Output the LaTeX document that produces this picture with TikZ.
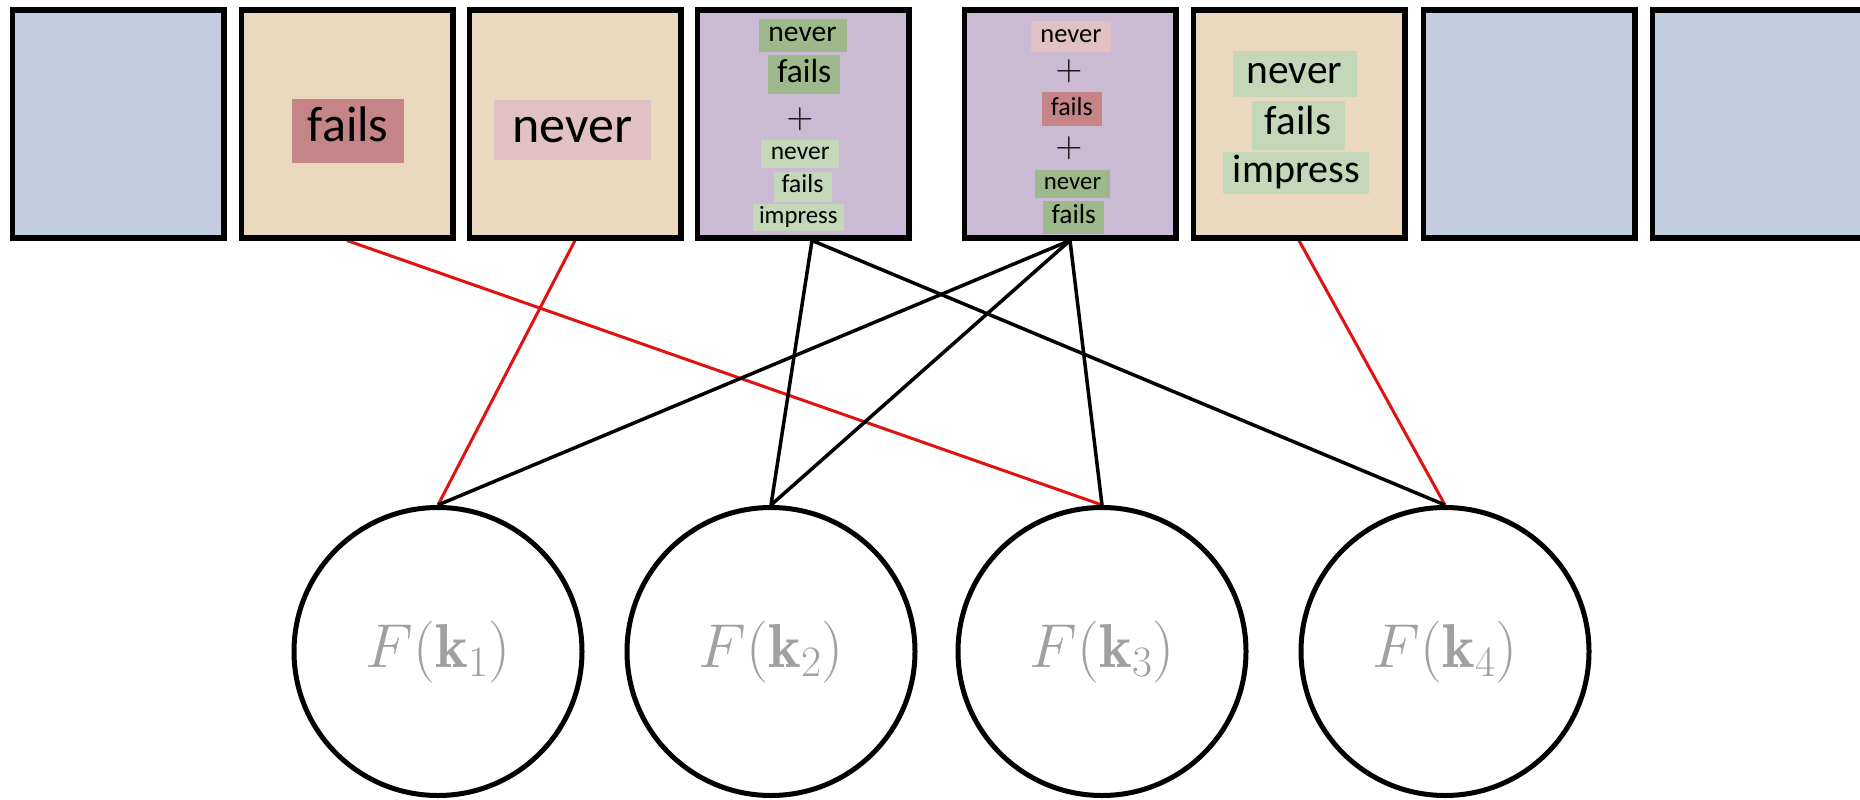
\RequirePackage{fix-cm}
\documentclass[tikz,border=0pt]{standalone}
\usepackage{fontspec}
\newfontfamily\lbl{Carlito}
\usetikzlibrary{calc}

\definecolor{boxblue}{HTML}{C2CDDF}
\definecolor{boxtan}{HTML}{EAD9BF}
\definecolor{boxpurple}{HTML}{CABAD3}
\definecolor{rosedark}{HTML}{C58586}
\definecolor{roselight}{HTML}{E1C1C3}
\definecolor{greendark}{HTML}{9DB98B}
\definecolor{greenlight}{HTML}{C4D7B9}
\definecolor{labelgray}{HTML}{A0A0A0}
\definecolor{linkred}{RGB}{225,18,18}

% invisible strut so every tag centres its line box, not its ink
\newcommand\tagstrut{\vrule height .75em depth .3em width 0pt\relax}

\pgfdeclarelayer{bg}
\pgfsetlayers{bg,main}

\tikzset{
  slot/.style={rectangle, draw=black, line width=5.5pt, minimum width=211.5pt,
    minimum height=227.5pt, inner sep=0pt},
  tag/.style n args={4}{rectangle, fill=#1, minimum width=#2, minimum height=#3,
    inner sep=0pt, font=\lbl\fontsize{#4}{#4}\selectfont,
    execute at begin node=\tagstrut},
  plus/.style={inner sep=0pt, font=\fontsize{37}{37}\selectfont},
  feat/.style={circle, draw=black, line width=5pt, minimum size=288pt,
    inner sep=0pt, text=labelgray, font=\fontsize{62}{66}\selectfont},
  redlink/.style={draw=linkred, line width=3pt},
  blacklink/.style={draw=black, line width=3.5pt},
}

\begin{document}
\begin{tikzpicture}[x=1pt, y=-1pt]
\useasboundingbox (0,0) rectangle (1860,800);
\begin{pgfonlayer}{bg}
  \fill[white] (0,0) rectangle (1860,800);
\end{pgfonlayer}

% top row of slots
\node[slot, fill=boxblue]   (b1) at (118,124) {};
\node[slot, fill=boxtan]    (b2) at (347,124) {};
\node[slot, fill=boxtan]    (b3) at (575,124) {};
\node[slot, fill=boxpurple] (b4) at (803,124) {};
\node[slot, fill=boxpurple] (b5) at (1070,124) {};
\node[slot, fill=boxtan]    (b6) at (1299,124) {};
\node[slot, fill=boxblue]   (b7) at (1529,124) {};
\node[slot, fill=boxblue]   (b8) at (1758,124) {};

% slot 2 and 3
\node[tag={rosedark}{112pt}{64pt}{50}]  (t2) at (348.2,130.7) {fails};
\node[tag={roselight}{157pt}{60pt}{52}] (t3) at (572.5,130.3) {never};

% slot 4
\node[tag={greendark}{88pt}{33pt}{29.5}] (t4a) at (802.5,35.3)  {never};
\node[tag={greendark}{72pt}{39pt}{33.5}] (t4b) at (804.3,74.7)  {fails};
\node[plus]                               (p4)  at (800,119)     {$+$};
\node[tag={greenlight}{78pt}{28pt}{25.5}] (t4c) at (800.2,154.2) {never};
\node[tag={greenlight}{58pt}{30pt}{26}]   (t4d) at (802.5,186.7) {fails};
\node[tag={greenlight}{91pt}{25pt}{24.8}] (t4e) at (798.3,217.5) {impress};

% slot 5
\node[tag={roselight}{80pt}{31pt}{26.5}] (t5a) at (1071,36.2)   {never};
\node[plus]                               (p5a) at (1069,71)     {$+$};
\node[tag={rosedark}{60pt}{34pt}{26}]    (t5b) at (1071.8,109.2) {fails};
\node[plus]                               (p5b) at (1069,148)    {$+$};
\node[tag={greendark}{75pt}{28pt}{24.8}] (t5c) at (1072.5,184.2) {never};
\node[tag={greendark}{61pt}{33pt}{27.5}] (t5d) at (1073.8,217)   {fails};

% slot 6
\node[tag={greenlight}{124pt}{46pt}{41.5}]   (t6a) at (1294.5,73.7)  {never};
\node[tag={greenlight}{93pt}{49pt}{41}]      (t6b) at (1298,125.3)   {fails};
\node[tag={greenlight}{146pt}{38.7pt}{40}]   (t6c) at (1296.3,173.3) {impress};

% feature circles
\node[feat] (c1) at (438,651.5)  {$F(\mathbf{k}_1)$};
\node[feat] (c2) at (771,651.5)  {$F(\mathbf{k}_2)$};
\node[feat] (c3) at (1102,651.5) {$F(\mathbf{k}_3)$};
\node[feat] (c4) at (1445,651.5) {$F(\mathbf{k}_4)$};

\coordinate (b4out) at ($(b4.south)+(9,0)$);

% links, kept behind the slots and circles
\begin{pgfonlayer}{bg}
  \draw[redlink] (b2.south) -- (c3.north);
  \draw[redlink] (b3.south) -- (c1.north);
  \draw[redlink] (b6.south) -- (c4.north);
  \draw[blacklink] (b4out) -- (c2.north);
  \draw[blacklink] (b4out) -- (c4.north);
  \draw[blacklink] (b5.south) -- (c1.north);
  \draw[blacklink] (b5.south) -- (c2.north);
  \draw[blacklink] (b5.south) -- (c3.north);
\end{pgfonlayer}
\end{tikzpicture}
\end{document}
